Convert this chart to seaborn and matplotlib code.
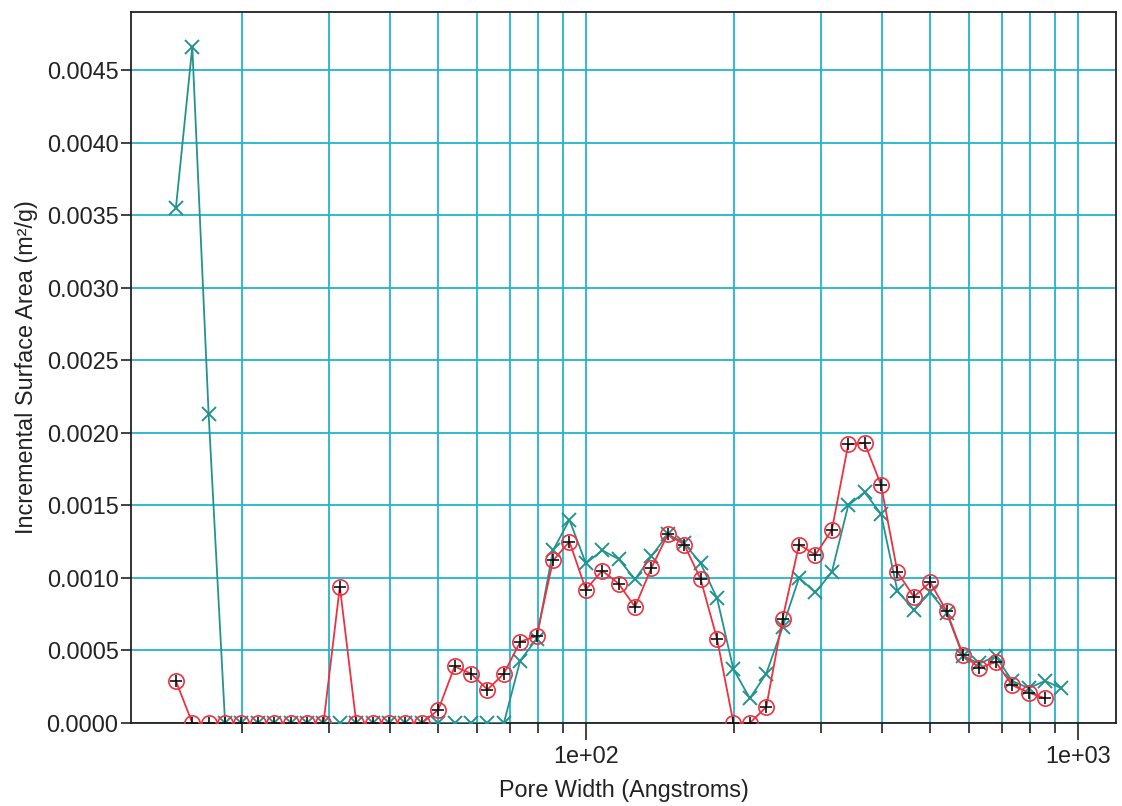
import numpy as np
import pandas as pd
import matplotlib
matplotlib.use("Agg")
import matplotlib.pyplot as plt
import matplotlib.ticker as mticker
import seaborn as sns

# Pore widths (Angstroms), evenly spaced on a log scale
pore_width = [14.68, 15.85, 17.11, 18.48, 19.95, 21.54, 23.26, 25.12, 27.12, 29.29,
              31.62, 34.15, 36.87, 39.81, 42.99, 46.42, 50.12, 54.12, 58.43, 63.10,
              68.13, 73.56, 79.43, 85.77, 92.61, 100.0, 107.98, 116.59, 125.89, 135.94,
              146.78, 158.49, 171.13, 184.78, 199.53, 215.44, 232.63, 251.19, 271.23, 292.86,
              316.23, 341.46, 368.69, 398.11, 429.87, 464.16, 501.19, 541.17, 584.34, 630.96,
              681.29, 735.64, 794.33, 857.70, 926.11]

# Incremental surface area (m²/g), first sample (red circles)
area_a = [0.00029, 0, 0, 0, 0, 0, 0, 0, 0, 0,
          0.00094, 0, 0, 0, 0, 0, 0.00009, 0.00039, 0.00034, 0.00023,
          0.00034, 0.00056, 0.00060, 0.00112, 0.00125, 0.00092, 0.00105, 0.00096, 0.00080, 0.00107,
          0.00130, 0.00123, 0.00099, 0.00058, 0, 0, 0.00011, 0.00072, 0.00123, 0.00116,
          0.00133, 0.00192, 0.00193, 0.00164, 0.00104, 0.00087, 0.00097, 0.00077, 0.00047, 0.00038,
          0.00042, 0.00026, 0.00021, 0.00017]

# Incremental surface area (m²/g), second sample (teal crosses)
area_b = [0.00355, 0.00466, 0.00213, 0, 0, 0, 0, 0, 0, 0,
          0, 0, 0, 0, 0, 0, 0, 0, 0, 0,
          0, 0.00043, 0.00058, 0.00119, 0.00140, 0.00110, 0.00119, 0.00113, 0.00099, 0.00115,
          0.00130, 0.00124, 0.00110, 0.00086, 0.00037, 0.00017, 0.00034, 0.00066, 0.00100, 0.00090,
          0.00104, 0.00150, 0.00159, 0.00144, 0.00091, 0.00078, 0.00090, 0.00076, 0.00046, 0.00041,
          0.00046, 0.00029, 0.00024, 0.00029, 0.00024]

y_ticks = [0.0, 0.0005, 0.0010, 0.0015, 0.0020, 0.0025, 0.0030, 0.0035, 0.0040, 0.0045]
x_major = [100, 1000]
x_major_labels = ["1e+02", "1e+03"]

RED = "#ee3140"
TEAL = "#22938f"
GRID = "#22b4cc"
INK = "#222222"
FS = 16.8

sns.set_style("white")
plt.rcParams["font.family"] = ["Liberation Sans", "DejaVu Sans"]

df_a = pd.DataFrame({"width": pore_width[:len(area_a)], "area": area_a})
df_b = pd.DataFrame({"width": pore_width[:len(area_b)], "area": area_b})

fig = plt.figure(figsize=(11.22, 8.06), dpi=100)
ax = fig.add_axes([0.1168, 0.103, 0.8779, 0.882])

ax.set_xscale("log")

# teal series with x markers
sns.lineplot(data=df_b, x="width", y="area", ax=ax, color=TEAL, linewidth=1.3,
             marker="x", markersize=10, markeredgewidth=1.4, markeredgecolor=TEAL,
             estimator=None, sort=False, zorder=3)
# red series with open circles and a black plus inside
sns.lineplot(data=df_a, x="width", y="area", ax=ax, color=RED, linewidth=1.3,
             marker="o", markersize=11, markerfacecolor="none", markeredgecolor=RED,
             markeredgewidth=1.2, estimator=None, sort=False, zorder=4)
sns.scatterplot(data=df_a, x="width", y="area", ax=ax, marker="+", s=70,
                color="#111111", linewidth=1.2, zorder=5)

# markers sitting on the zero line are cut by the plot frame
for artist in list(ax.lines) + list(ax.collections):
    artist.set_clip_on(True)
    artist.set_clip_box(ax.bbox)

ax.set_xlim(11.9, 1196)
ax.set_ylim(0, 0.0049)

ax.xaxis.set_major_locator(mticker.FixedLocator(x_major))
ax.xaxis.set_major_formatter(mticker.FixedFormatter(x_major_labels))
ax.xaxis.set_minor_locator(mticker.LogLocator(base=10, subs=np.arange(2, 10), numticks=20))
ax.xaxis.set_minor_formatter(mticker.NullFormatter())
ax.set_yticks(y_ticks)
ax.yaxis.set_major_formatter(mticker.FormatStrFormatter("%.4f"))

ax.grid(True, which="both", axis="x", color=GRID, linewidth=1.3)
ax.grid(True, which="major", axis="y", color=GRID, linewidth=1.3)
ax.set_axisbelow(True)

ax.tick_params(axis="y", which="major", direction="out", length=7, width=1.2,
               color=INK, labelsize=FS, labelcolor=INK, pad=2, left=True)
ax.tick_params(axis="x", which="major", direction="out", length=12, width=1.2,
               color=INK, labelsize=FS, labelcolor=INK, pad=4, bottom=True)
ax.tick_params(axis="x", which="minor", direction="out", length=7, width=1.2,
               color=INK, bottom=True)

for side in ["left", "bottom", "top", "right"]:
    ax.spines[side].set_visible(True)
    ax.spines[side].set_color(INK)
    ax.spines[side].set_linewidth(1.3)

ax.set_xlabel("Pore Width (Angstroms)", fontsize=FS, color=INK, labelpad=8)
ax.set_ylabel("Incremental Surface Area (m²/g)", fontsize=FS, color=INK, labelpad=6)

fig.savefig("out.png", dpi=100)
